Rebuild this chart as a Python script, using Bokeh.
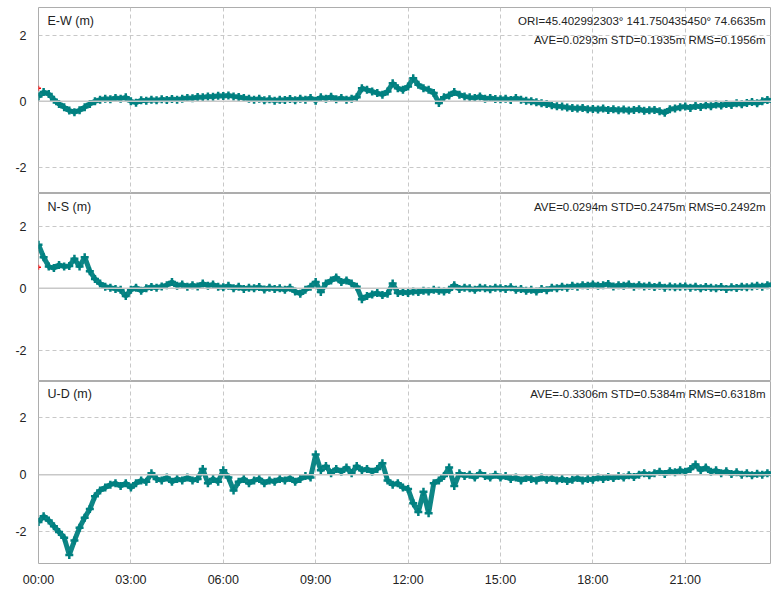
from bokeh.plotting import figure
from bokeh.layouts import column
from bokeh.models import Range1d, FixedTicker, Span, Label
from bokeh.embed import file_html
from bokeh.resources import INLINE

# ---------------- data (10-minute epochs, metres) ----------------
ew = [0.15, 0.28, 0.22, 0.05, -0.08, -0.18,
      -0.28, -0.33, -0.27, -0.18, -0.08, 0.0,
      0.05, 0.08, 0.06, 0.1, 0.08, 0.12,
      0.0, -0.04, 0.03, 0.02, 0.05, 0.03,
      0.06, 0.04, 0.07, 0.05, 0.08, 0.1,
      0.09, 0.13, 0.12, 0.15, 0.14, 0.17,
      0.16, 0.18, 0.15, 0.13, 0.1, 0.08,
      0.05, 0.08, 0.03, 0.06, 0.02, 0.05,
      0.04, 0.07, 0.03, 0.08, 0.05, 0.1,
      0.02, 0.12, 0.08, 0.14, 0.06, 0.1,
      0.05, 0.08, 0.12, 0.4, 0.35, 0.3,
      0.25, 0.2, 0.3, 0.55, 0.4, 0.35,
      0.45, 0.7, 0.5, 0.4, 0.35, 0.25,
      -0.05, 0.12, 0.18, 0.28, 0.2, 0.15,
      0.12, 0.1, 0.15, 0.08, 0.1, 0.07,
      0.06, 0.08, 0.04, 0.1, 0.05, 0.02,
      0.0, -0.03, -0.06, -0.08, -0.12, -0.15,
      -0.16, -0.19, -0.2, -0.22, -0.2, -0.24,
      -0.23, -0.25, -0.22, -0.26, -0.24, -0.27,
      -0.25, -0.28, -0.26, -0.24, -0.29, -0.27,
      -0.26, -0.3, -0.35, -0.24, -0.22, -0.18,
      -0.16, -0.2, -0.14, -0.17, -0.12, -0.15,
      -0.1, -0.13, -0.08, -0.11, -0.06, -0.09,
      -0.05, -0.02, -0.06, 0.0, 0.04, 0.02]

ns = [1.4, 1.0, 0.7, 0.65, 0.75, 0.7,
      0.72, 0.95, 0.7, 1.0, 0.55, 0.3,
      0.15, 0.05, 0.02, -0.02, -0.05, -0.25,
      -0.05, 0.02, -0.08, 0.0, 0.04, 0.02,
      0.06, 0.1, 0.2, 0.08, 0.12, 0.05,
      0.1, 0.06, 0.15, 0.08, 0.12, 0.05,
      0.03, 0.08, 0.0, 0.05, -0.02, 0.02,
      0.0, 0.04, -0.04, 0.02, -0.02, 0.0,
      -0.05, 0.02, -0.1, -0.18, -0.05, 0.05,
      0.2, -0.12, 0.15, 0.25, 0.35, 0.2,
      0.25, 0.15, 0.05, -0.35, -0.25, -0.2,
      -0.15, -0.22, -0.18, 0.15, -0.15, -0.12,
      -0.15, -0.1, -0.12, -0.08, -0.1, -0.05,
      -0.08, -0.1, -0.05, 0.1, -0.02, 0.02,
      0.0, -0.05, 0.02, 0.0, -0.03, 0.02,
      0.0, -0.02, 0.03, -0.05, -0.02, -0.08,
      -0.05, -0.1, -0.02, -0.06, 0.02, 0.0,
      0.05, 0.02, 0.08, 0.05, 0.1, 0.08,
      0.12, 0.08, 0.1, 0.14, 0.06, 0.1,
      0.08, 0.12, 0.05, 0.1, 0.06, 0.08,
      0.04, 0.08, 0.02, 0.06, 0.03, 0.05,
      0.06, 0.02, 0.05, 0.0, 0.04, 0.02,
      0.0, 0.04, -0.02, 0.03, 0.01, 0.05,
      0.03, 0.06, 0.08, 0.05, 0.1, 0.12]

ud = [-1.65, -1.45, -1.6, -1.8, -2.0, -2.2,
      -2.8, -2.3, -1.85, -1.5, -1.2, -0.75,
      -0.55, -0.45, -0.35, -0.3, -0.4, -0.3,
      -0.45, -0.3, -0.2, -0.25, 0.05, -0.15,
      -0.2, -0.1, -0.25, -0.15, -0.2, -0.1,
      -0.2, -0.15, 0.2, -0.3, -0.15, -0.25,
      0.15, -0.1, -0.55, -0.25, -0.15, -0.3,
      -0.2, -0.15, -0.3, -0.2, -0.25, -0.15,
      -0.2, -0.12, -0.25, -0.15, -0.05, -0.1,
      0.7, 0.15, 0.3, 0.05, 0.2, 0.1,
      0.25, 0.05, 0.3, 0.15, 0.2, 0.1,
      0.2, 0.4, -0.2, -0.35, -0.3, -0.45,
      -0.5, -1.0, -1.3, -0.6, -1.35, -0.3,
      -0.2, -0.05, 0.25, -0.4, 0.05, -0.05,
      0.0, -0.1, 0.05, -0.05, -0.1, 0.0,
      -0.1, -0.05, -0.15, -0.1, -0.2, -0.12,
      -0.15, -0.2, -0.1, -0.18, -0.12, -0.2,
      -0.15, -0.22, -0.18, -0.12, -0.2, -0.15,
      -0.18, -0.1, -0.15, -0.08, -0.12, -0.05,
      -0.1, -0.02, -0.08, 0.0, 0.05, -0.02,
      0.05, 0.1, 0.02, 0.12, 0.08, 0.15,
      0.1, 0.2, 0.35, 0.15, 0.25, 0.1,
      0.15, 0.05, 0.12, 0.02, 0.08, 0.0,
      0.05, -0.02, 0.03, 0.0, 0.05, 0.02]

hours = [i / 6 for i in range(len(ew))]

first_hour = [0.0]
first_ew = [0.4]
first_ns = [0.68]

x_ticks = [0, 3, 6, 9, 12, 15, 18, 21]
x_tick_labels = ["00:00", "03:00", "06:00", "09:00", "12:00", "15:00", "18:00", "21:00"]
y_ticks = [-2, 0, 2]
y_tick_labels = ["-2", "0", "2"]

panel_names = ["E-W (m)", "N-S (m)", "U-D (m)"]
stat_lines = [
    ["ORI=45.402992303\u00b0 141.750435450\u00b0 74.6635m",
     "AVE=0.0293m STD=0.1935m RMS=0.1956m"],
    ["AVE=0.0294m STD=0.2475m RMS=0.2492m"],
    ["AVE=-0.3306m STD=0.5384m RMS=0.6318m"],
]
y_limits = [(-2.8, 2.85), (-3.0, 3.05), (-3.1, 3.25)]

# ---------------- style ----------------
FONT = "Liberation Sans"
TEAL = "#008080"
GRID = "#c8c8c8"
TXT = "#222222"
W = 771
LEFT = 38
X_END = 23.8
FRAME_W = W - LEFT

x_range = Range1d(0, X_END)


def make_panel(name, stats, values, ylim, frame_h, top_pad, bottom_axis, red=None):
    h = frame_h + top_pad + (20 if bottom_axis else 0)
    p = figure(width=W, height=h, x_range=x_range,
               y_range=Range1d(ylim[0], ylim[1]),
               output_backend="svg", toolbar_location=None,
               min_border_left=LEFT, min_border_right=0,
               min_border_top=top_pad, min_border_bottom=0)
    p.outline_line_color = "#adadad"
    p.outline_line_width = 1
    p.background_fill_color = "white"
    p.border_fill_color = "white"

    # y axis
    p.yaxis.ticker = FixedTicker(ticks=y_ticks)
    p.yaxis.major_label_overrides = {t: l for t, l in zip(y_ticks, y_tick_labels)}
    p.yaxis.axis_line_color = None
    p.yaxis.major_tick_line_color = None
    p.yaxis.minor_tick_line_color = None
    p.yaxis.major_label_standoff = 6
    p.yaxis.major_label_text_font = FONT
    p.yaxis.major_label_text_font_size = "12.5px"
    p.yaxis.major_label_text_color = TXT

    # x axis
    p.xaxis.ticker = FixedTicker(ticks=x_ticks)
    p.xgrid.ticker = FixedTicker(ticks=x_ticks)
    p.ygrid.ticker = FixedTicker(ticks=[-2, 2])
    if bottom_axis:
        p.xaxis.major_label_overrides = {t: l for t, l in zip(x_ticks, x_tick_labels)}
        p.xaxis.axis_line_color = None
        p.xaxis.major_tick_line_color = None
        p.xaxis.minor_tick_line_color = None
        p.xaxis.major_label_standoff = 3
        p.xaxis.major_label_text_font = FONT
        p.xaxis.major_label_text_font_size = "12.5px"
        p.xaxis.major_label_text_color = TXT
    else:
        p.xaxis.visible = False

    for g in (p.xgrid, p.ygrid):
        g.grid_line_color = GRID
        g.grid_line_dash = "4 3"
        g.grid_line_width = 1

    p.add_layout(Span(location=0, dimension="width", line_color=GRID, line_width=1.5))

    p.line(hours, values, line_color=TEAL, line_width=5, line_alpha=0.95)
    p.scatter(hours, values, marker="cross", size=8, line_color=TEAL, line_width=2.5)
    if red is not None:
        p.scatter(first_hour, red, marker="cross", size=5, line_color="red", line_width=1.5)

    ypp = (ylim[1] - ylim[0]) / frame_h
    xpp = X_END / FRAME_W
    p.add_layout(Label(x=9 * xpp, y=ylim[1] - 13 * ypp, text=name,
                       text_font=FONT, text_font_size="12.5px", text_color=TXT,
                       text_baseline="middle", text_align="left"))
    for k, s in enumerate(stats):
        p.add_layout(Label(x=X_END - 6 * xpp, y=ylim[1] - (13 + 19 * k) * ypp, text=s,
                           text_font=FONT, text_font_size="11.5px", text_color=TXT,
                           text_baseline="middle", text_align="right"))
    return p


p1 = make_panel(panel_names[0], stat_lines[0], ew, y_limits[0], 186, 7, False, first_ew)
p2 = make_panel(panel_names[1], stat_lines[1], ns, y_limits[1], 188, 0, False, first_ns)
p3 = make_panel(panel_names[2], stat_lines[2], ud, y_limits[2], 188, 0, True)

layout = column(p1, p2, p3, spacing=0)
open("out.html", "w").write(file_html(layout, INLINE))
